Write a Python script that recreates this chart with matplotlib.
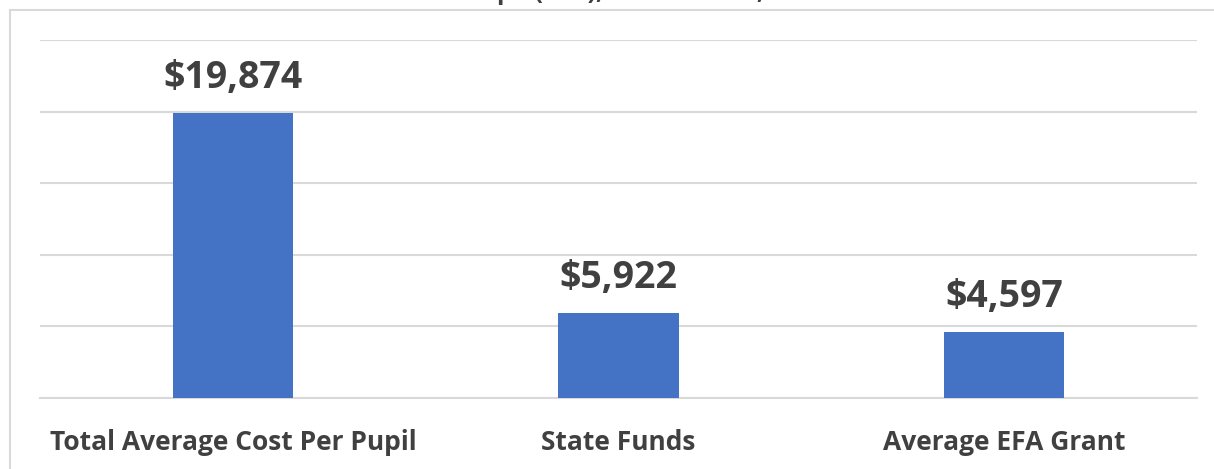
import matplotlib.pyplot as plt
from matplotlib.patches import Rectangle

categories = ['Total Average Cost Per Pupil', 'State Funds', 'Average EFA Grant']
values = [19874, 5922, 4597]
title = 'Cost Per Pupil (EFA), State Funds, 2019-20'

bar_color = '#4472C4'
text_color = '#404040'
grid_color = '#d9d9d9'

plt.rcParams['font.family'] = ['Open Sans', 'DejaVu Sans']

fig = plt.figure(figsize=(12.14, 4.69), dpi=100)
W, H = 1214, 469

# chart area border (runs off the right and bottom edges)
fig.patches.append(Rectangle((10 / W, -0.1), 1.2, (H - 10) / H + 0.1,
                             transform=fig.transFigure, fill=False,
                             edgecolor=grid_color, linewidth=1.5))

# title is cut off at the top of the image
fig.text(610 / W, 1 + 1 / H, title, ha='center', va='baseline',
         fontsize=18, fontweight='bold', color=text_color)

ax = fig.add_axes([40 / W, 71 / H, 1157 / W, 358 / H])
x = range(len(categories))
bars = ax.bar(x, values, width=0.312, color=bar_color, zorder=3)

ax.set_xlim(-0.5, 2.5)
ax.set_ylim(0, 25000)
ax.set_yticks(range(0, 25001, 5000))
ax.yaxis.grid(True, color=grid_color, linewidth=1.5, zorder=0)
ax.tick_params(axis='y', left=False, labelleft=False)
ax.tick_params(axis='x', bottom=False, pad=19)
ax.set_xticks(list(x))
ax.set_xticklabels(categories, fontsize=19, fontweight='bold', color=text_color)
for side in ['top', 'right', 'left']:
    ax.spines[side].set_visible(False)
ax.spines['bottom'].set_color(grid_color)
ax.spines['bottom'].set_linewidth(1.5)

for b, v in zip(bars, values):
    ax.annotate('${:,}'.format(v), (b.get_x() + b.get_width() / 2, v),
                xytext=(0, 12), textcoords='offset points', ha='center',
                va='bottom', fontsize=27, fontweight='bold', color=text_color)

fig.savefig('out.png', dpi=100)
